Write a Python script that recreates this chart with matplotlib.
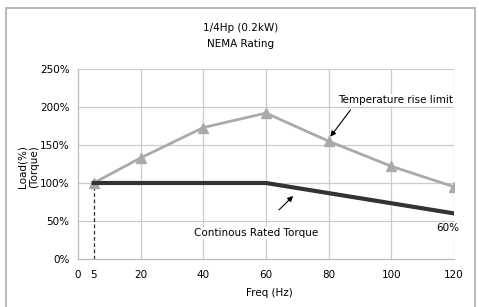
import matplotlib
matplotlib.use("Agg")
import matplotlib.pyplot as plt
from matplotlib.patches import Rectangle

# Data
temp_freq = [5, 20, 40, 60, 80, 100, 120]
temp_load = [100, 133, 173, 192, 155, 122, 95]
torque_freq = [5, 60, 120]
torque_load = [100, 100, 60]
xticks = [0, 5, 20, 40, 60, 80, 100, 120]
xgrid = [20, 40, 60, 80, 100, 120]
yticks = [0, 50, 100, 150, 200, 250]
ytick_labels = ["0%", "50%", "100%", "150%", "200%", "250%"]

fig = plt.figure(figsize=(4.79, 3.07), dpi=100)
ax = fig.add_axes([78/479, 1-259/307, (454-78)/479, (259-69)/307])

fs = 7.5
for g in xgrid:
    ax.axvline(g, color="#cccccc", lw=0.9, zorder=0)
for g in yticks[1:]:
    ax.axhline(g, color="#cccccc", lw=0.9, zorder=0)

ax.plot([5, 5], [0, 100], color="#333333", lw=0.9, ls=(0, (3, 2)), zorder=1)
ax.plot(temp_freq, temp_load, color="#aaaaaa", lw=2, marker="^", ms=6.5,
        markerfacecolor="#aaaaaa", markeredgecolor="#aaaaaa", zorder=3)
ax.plot(torque_freq, torque_load, color="#333333", lw=3, zorder=4)

ax.set_xlim(0, 120)
ax.set_ylim(0, 250)
ax.set_xticks(xticks)
ax.set_xticklabels([str(v) for v in xticks], fontsize=fs)
ax.set_yticks(yticks)
ax.set_yticklabels(ytick_labels, fontsize=fs)
ax.tick_params(length=0)
ax.tick_params(axis="x", pad=8)
ax.tick_params(axis="y", pad=6)
for s in ["top", "right"]:
    ax.spines[s].set_visible(False)
for s in ["left", "bottom"]:
    ax.spines[s].set_color("#bbbbbb")
    ax.spines[s].set_linewidth(0.9)

bbox = dict(facecolor="white", edgecolor="none", pad=0.5)
ax.annotate("", xy=(80, 158), xytext=(87.5, 199),
            arrowprops=dict(arrowstyle="-|>", color="black", lw=0.8, mutation_scale=8))
ax.text(101.5, 209, "Temperature rise limit", fontsize=fs, ha="center", va="center", bbox=bbox, zorder=5)
ax.annotate("", xy=(69.3, 85.5), xytext=(63.5, 62),
            arrowprops=dict(arrowstyle="-|>", color="black", lw=0.8, mutation_scale=8))
ax.text(56.8, 34, "Continous Rated Torque", fontsize=fs, ha="center", va="center", bbox=bbox, zorder=5)
ax.text(118, 41, "60%", fontsize=fs, ha="center", va="center", bbox=bbox, zorder=5)

fig.text(0.503, 1-28/307, "1/4Hp (0.2kW)", fontsize=fs, ha="center", va="center")
fig.text(0.503, 1-44/307, "NEMA Rating", fontsize=fs, ha="center", va="center")
fig.text(28/479, 1-167/307, "Load(%)\n(Torque)", fontsize=fs, ha="center", va="center",
         rotation=90, multialignment="center")
fig.text(269/479, 1-293/307, "Freq (Hz)", fontsize=fs, ha="center", va="center")

fig.patches.append(Rectangle((6/479, -0.05), (475-6)/479, 1-8/307+0.05,
                             transform=fig.transFigure, fill=False,
                             edgecolor="#bbbbbb", lw=1.5))

fig.savefig("out.png", dpi=100)
